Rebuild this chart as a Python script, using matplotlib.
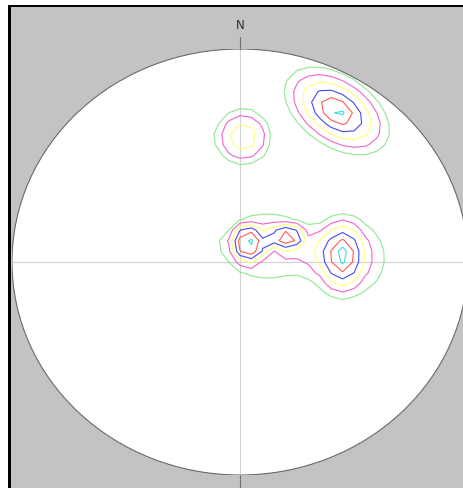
import numpy as np
import matplotlib
matplotlib.use("Agg")
import matplotlib.pyplot as plt
from matplotlib import patches

# density peaks in stereonet unit coords: centre, height, half-widths, tilt (deg), shape power
peak_x = [0.425, 0.013, 0.123, 0.46, 0.035, 0.206, 0.447]
peak_y = [0.709, 0.587, 0.075, 0.019, 0.089, 0.117, 0.033]
peak_h = [6.8, 3.6, 2.0, 2.2, 4.5, 4.0, 4.8]
peak_sx = [0.31, 0.145, 0.28, 0.237, 0.096, 0.1, 0.13]
peak_sy = [0.19, 0.155, 0.216, 0.244, 0.113, 0.08, 0.207]
peak_tilt = [-38, 0, 0, 0, 0, 0, 0]
peak_pow = [1, 2, 2, 2, 2, 2, 1]

levels = [1, 2, 3, 4, 5, 6]
level_colors = ['#8ee88e', '#f064c8', '#ffff78', '#4848f0', '#ff5a50', '#40dcdc']

# coarse counting grid, gives the blocky contour look
g = np.linspace(-1, 1, 41)
X, Y = np.meshgrid(g, g)
Z = np.zeros_like(X)
for x0, y0, h, sx, sy, t, p in zip(peak_x, peak_y, peak_h, peak_sx, peak_sy, peak_tilt, peak_pow):
    a = np.radians(t)
    dx, dy = X - x0, Y - y0
    u = dx * np.cos(a) + dy * np.sin(a)
    v = -dx * np.sin(a) + dy * np.cos(a)
    d = np.sqrt((u / sx) ** 2 + (v / sy) ** 2)
    Z += h * np.clip(1 - d ** p, 0, None)

fig = plt.figure(figsize=(4.64, 4.88), dpi=100)
fig.patch.set_facecolor('white')

# grey panel with a black frame on the left and top
W, H = 464, 488
fig.patches.append(patches.Rectangle((11 / W, 0), 1, (H - 7) / H, transform=fig.transFigure,
                                     facecolor='#c3c3c3', edgecolor='none', zorder=-3))
fig.patches.append(patches.Rectangle((8 / W, 0), 3 / W, (H - 5) / H, transform=fig.transFigure,
                                     facecolor='black', edgecolor='none', zorder=-2))
fig.patches.append(patches.Rectangle((8 / W, (H - 7) / H), 1, 2 / H, transform=fig.transFigure,
                                     facecolor='black', edgecolor='none', zorder=-2))

ax = fig.add_axes([12 / W, 13 / H, 456 / W, 426 / H])
ax.set_xlim(-1, 1)
ax.set_ylim(-1, 1)
ax.axis('off')

ax.add_patch(patches.Circle((0, 0), 1, facecolor='white', edgecolor='#6a6a6a', lw=0.8, zorder=1))
ax.plot([-1, 1], [0, 0], color='#d2d2d2', lw=0.8, zorder=2)
ax.plot([0, 0], [-1, 1], color='#d2d2d2', lw=0.8, zorder=2)
ax.plot([0, 0], [1, 1.056], color='#707070', lw=0.8, zorder=2, clip_on=False)
ax.plot([0, 0], [-1, -1.07], color='#707070', lw=0.8, zorder=2, clip_on=False)
ax.text(0, 1.108, 'N', ha='center', va='center', fontsize=8.5, color='#303030')

ax.contour(X, Y, Z, levels=levels, colors=level_colors, linewidths=0.8, zorder=3)

fig.savefig('out.png', dpi=100)
